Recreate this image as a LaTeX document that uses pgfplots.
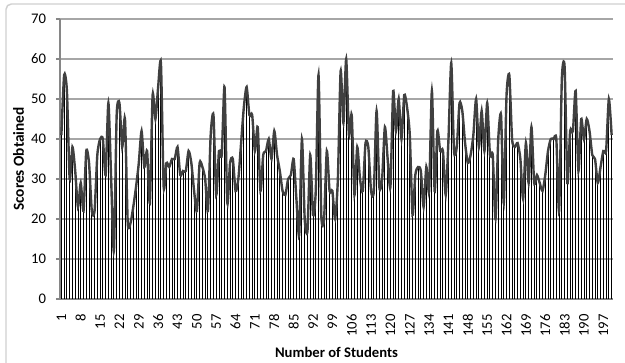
\documentclass[border=0pt]{standalone}
\usepackage{fontspec}
\setmainfont{Carlito}
\usepackage{pgfplots}
\pgfplotsset{compat=1.18}
\usepackage{pgfplotstable}
\definecolor{gridc}{HTML}{A6A6A6}
\definecolor{axisc}{HTML}{868686}
\definecolor{linec}{HTML}{404040}
\definecolor{framec}{HTML}{D0D0D0}
\pgfplotstableread{
x y
1 41
2 56
3 52
4 30
5 38
6 32
7 23
8 29
9 22
10 37
11 34
12 22
13 22
14 36
15 40
16 40
17 31
18 49
19 30
20 12
21 46
22 49
23 38
24 45
25 19
26 19
27 23
28 28
29 34
30 42
31 33
32 37
33 24
34 51
35 45
36 53
37 59
38 28
39 34
40 33
41 35
42 35
43 38
44 31
45 32
46 32
47 37
48 34
49 27
50 22
51 34
52 33
53 30
54 22
55 41
56 46
57 26
58 37
59 36
60 53
61 24
62 34
63 35
64 27
65 30
66 39
67 48
68 53
69 46
70 46
71 37
72 43
73 27
74 36
75 37
76 40
77 35
78 42
79 36
80 32
81 27
82 26
83 30
84 31
85 35
86 25
87 16
88 40
89 20
90 17
91 36
92 21
93 27
94 56
95 21
96 20
97 37
98 27
99 27
100 20
101 30
102 57
103 44
104 60
105 41
106 46
107 26
108 38
109 30
110 27
111 39
112 38
113 27
114 27
115 47
116 28
117 30
118 43
119 35
120 28
121 52
122 42
123 50
124 40
125 51
126 48
127 41
128 21
129 31
130 33
131 32
132 23
133 33
134 27
135 52
136 27
137 42
138 37
139 37
140 26
141 40
142 59
143 37
144 38
145 49
146 47
147 39
148 34
149 36
150 41
151 50
152 38
153 47
154 37
155 49
156 36
157 36
158 20
159 40
160 46
161 24
162 51
163 56
164 40
165 38
166 39
167 35
168 25
169 39
170 29
171 43
172 29
173 31
174 29
175 27
176 31
177 37
178 40
179 40
180 40
181 22
182 55
183 58
184 29
185 42
186 42
187 52
188 32
189 45
190 40
191 45
192 42
193 36
194 35
195 29
196 33
197 37
198 37
199 50
200 41
}\scores
\begin{document}
\begin{tikzpicture}
\path[use as bounding box] (0,0) rectangle (468.75pt,271.5pt);
\draw[framec, line width=1.1pt, rounded corners=4pt] (4.5pt,-5pt) -- (4.5pt,268.5pt) -- (475pt,268.5pt);
\begin{axis}[
  at={(45pt,47.25pt)}, anchor=south west,
  scale only axis, width=414.75pt, height=210pt,
  xmin=0.5, xmax=200.5, ymin=0, ymax=70,
  xtick={1,8,...,197},
  ytick={0,10,...,70},
  /pgf/number format/assume math mode=true,
  axis x line*=bottom, axis y line*=left,
  axis line style={axisc, line width=0.8pt},
  ymajorgrids, grid style={gridc, line width=0.8pt},
  xtick style={draw=none},
  ytick style={axisc, line width=0.8pt},
  tick align=outside, major tick length=3pt,
  ticklabel style={font=\fontsize{11}{13}\selectfont, black},
  xticklabel style={rotate=90, anchor=east},
  xticklabel shift=5pt,
  yticklabel shift=4pt,
  every axis y label/.style={at={(axis description cs:0,0.5)}, xshift=-31pt, rotate=90, anchor=center, font=\fontsize{11.5}{13}\selectfont\bfseries},
  every axis x label/.style={at={(axis description cs:0.5,0)}, yshift=-39.75pt, anchor=center, font=\fontsize{11}{13}\selectfont\bfseries},
  xlabel={Number of Students},
  ylabel={Scores Obtained},
  clip=false,
]
\addplot[ycomb, black, line width=0.7pt, mark=none] table[x=x,y=y] {\scores};
\addplot[linec, line width=1.8pt, smooth, tension=0.4, mark=none] table[x=x,y=y] {\scores};
\end{axis}
\end{tikzpicture}
\end{document}
